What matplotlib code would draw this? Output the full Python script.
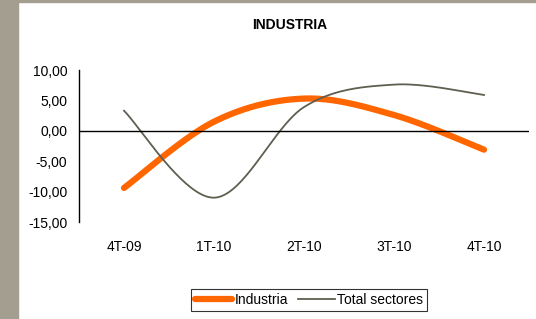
import numpy as np
import matplotlib.pyplot as plt
from matplotlib.patches import Rectangle

plt.rcParams['font.family'] = ['Liberation Sans', 'DejaVu Sans']

quarters = ["4T-09", "1T-10", "2T-10", "3T-10", "4T-10"]
industria = [-9.4, 1.5, 5.3, 2.6, -3.1]
total_sectores = [3.3, -11.0, 3.9, 7.6, 5.9]


def smooth(x, y, n=40):
    # excel-style smoothed line: bezier with catmull-rom control points
    x = np.asarray(x, float)
    y = np.asarray(y, float)
    px = np.concatenate([[x[0]], x, [x[-1]]])
    py = np.concatenate([[y[0]], y, [y[-1]]])
    xs, ys = [], []
    t = np.linspace(0, 1, n)
    for i in range(1, len(px) - 2):
        p0 = np.array([px[i], py[i]])
        p3 = np.array([px[i + 1], py[i + 1]])
        c1 = p0 + (np.array([px[i + 1], py[i + 1]]) - np.array([px[i - 1], py[i - 1]])) / 6
        c2 = p3 - (np.array([px[i + 2], py[i + 2]]) - np.array([px[i], py[i]])) / 6
        b = ((1 - t) ** 3)[:, None] * p0 + (3 * (1 - t) ** 2 * t)[:, None] * c1 \
            + (3 * (1 - t) * t ** 2)[:, None] * c2 + (t ** 3)[:, None] * p3
        xs.extend(b[:, 0])
        ys.extend(b[:, 1])
    return np.array(xs), np.array(ys)


fig = plt.figure(figsize=(5.36, 3.19), dpi=100)
fig.patches.append(Rectangle((0, 0), 18 / 536, 1, transform=fig.transFigure,
                             color="#a39e8f", zorder=0))
fig.patches.append(Rectangle((0, 1 - 2 / 319), 1, 2 / 319, transform=fig.transFigure,
                             color="#a39e8f", zorder=0))

ax = fig.add_axes([79 / 536, 1 - 222 / 319, 450 / 536, 152 / 319])
xpos = np.arange(len(quarters))

sx, sy = smooth(xpos, industria)
ax.plot(sx, sy, color="#ff6600", lw=4.5, solid_capstyle="round", label="Industria")
sx, sy = smooth(xpos, total_sectores)
ax.plot(sx, sy, color="#5f5e50", lw=1.3, label="Total sectores")

ax.axhline(0, color="black", lw=1)
ax.set_xlim(-0.5, len(quarters) - 0.5)
ax.set_ylim(-15, 10)
ax.set_yticks(np.arange(-15, 11, 5))
ax.set_yticklabels([f"{v:.2f}".replace(".", ",") for v in np.arange(-15, 11, 5)], fontsize=10)
ax.set_xticks(xpos)
ax.set_xticklabels(quarters, fontsize=10)
ax.tick_params(axis="both", length=0)
ax.tick_params(axis="y", pad=8.5)
ax.tick_params(axis="x", pad=13)
for s in ["top", "right", "bottom"]:
    ax.spines[s].set_visible(False)
ax.spines["left"].set_linewidth(1)

fig.text(290 / 536, 1 - 25 / 319, "INDUSTRIA", ha="center", va="center",
         fontsize=10, fontweight="bold")

leg = fig.legend(loc="center", bbox_to_anchor=(309 / 536, 1 - 300 / 319), ncol=2,
                 fontsize=10, frameon=True, fancybox=False, handlelength=2.7,
                 handletextpad=0.15, columnspacing=0.7, borderpad=0.3)
leg.get_frame().set_edgecolor("black")
leg.get_frame().set_linewidth(0.8)

fig.savefig("out.png", dpi=100)
